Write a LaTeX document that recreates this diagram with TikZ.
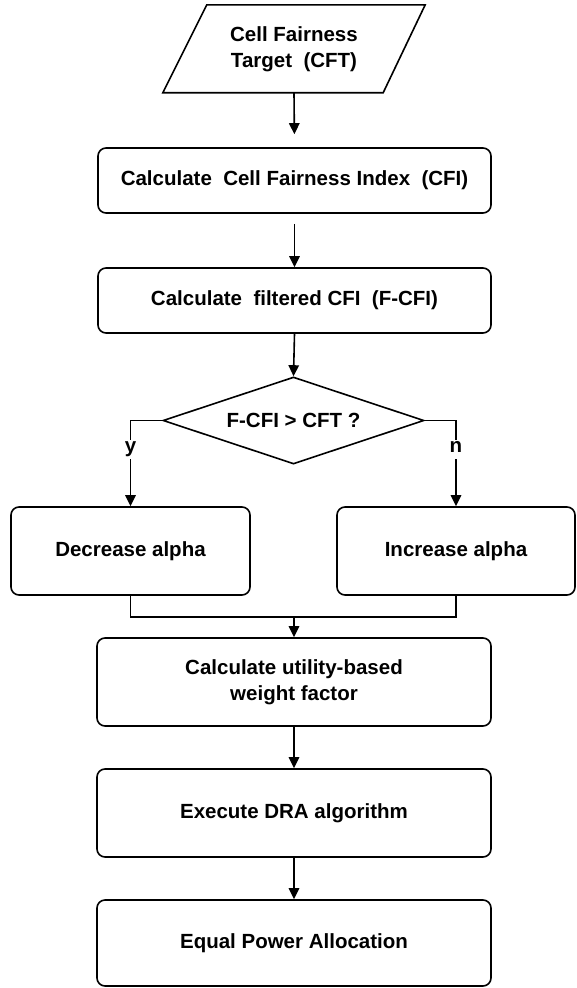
\documentclass[tikz,border=0pt]{standalone}
\usepackage{fontspec}
\setmainfont{Liberation Sans}
\usetikzlibrary{shapes.geometric,arrows.meta,calc}
\begin{document}
\begin{tikzpicture}[x=1pt,y=-1pt,
  every node/.style={font=\fontsize{20.5}{26}\selectfont\bfseries, align=center},
  flowline/.style={line width=1.6pt},
  arrowline/.style={flowline, -{Triangle[length=11pt,width=10.5pt]}},
  procbox/.style={draw, line width=1.6pt, rectangle, rounded corners=8pt, inner sep=0pt},
  decision/.style={draw, line width=1.6pt, diamond, aspect=3, inner sep=0pt,
                   minimum width=261pt, minimum height=87pt},
  branchlabel/.style={fill=white, inner sep=1.5pt, text height=11pt, text depth=4.5pt}]
  \useasboundingbox (0,0) rectangle (576,988);

  % input: target value (parallelogram)
  \node (cft) [minimum width=262pt, minimum height=87.5pt, inner sep=0pt] at (294,48.75)
        {Cell Fairness\\Target\ \ (CFT)};
  \draw[flowline, line join=miter] (cft.south west) -- ($(cft.south east)+(-42,0)$)
        -- (cft.north east) -- ($(cft.north west)+(44,0)$) -- cycle;

  % processing steps
  \node (cfi)  [procbox, minimum width=393pt, minimum height=65pt] at (294.5,180.5)
        {Calculate\ \ Cell Fairness\ Index\ \ (CFI)};
  \node (fcfi) [procbox, minimum width=393pt, minimum height=65pt] at (294.5,300.5)
        {Calculate\ \ filtered CFI\ \ (F-CFI)};
  \node (dec)  [decision] at (293.5,420.5) {F-CFI > CFT ?};
  \node (decr) [procbox, minimum width=239pt, minimum height=88pt] at (130.5,551)
        {Decrease alpha};
  \node (incr) [procbox, minimum width=238pt, minimum height=88pt] at (456,551)
        {Increase alpha};
  \node (wf)   [procbox, minimum width=394pt, minimum height=88pt] at (294,682)
        {Calculate utility-based\\weight factor};
  \node (dra)  [procbox, minimum width=394pt, minimum height=88pt] at (294,813)
        {Execute DRA algorithm};
  \node (epa)  [procbox, minimum width=394pt, minimum height=86pt] at (294,943)
        {Equal Power Allocation};

  \coordinate (merge) at (294,617);

  % connectors
  \draw[arrowline, shorten >=13pt] (cft.south) -- (cfi.north);
  \draw[arrowline, shorten <=10pt] (cfi.south) -- (fcfi.north);
  \draw[arrowline] (fcfi.south) -- (dec.north);
  \draw[arrowline] (dec.west) -| node[pos=0.67, branchlabel] {y} (decr.north);
  \draw[arrowline] (dec.east) -| node[pos=0.67, branchlabel] {n} (incr.north);
  \draw[flowline] (decr.south) |- (merge);
  \draw[flowline] (incr.south) |- (merge);
  \draw[arrowline] (merge) -- (wf.north);
  \draw[arrowline] (wf.south) -- (dra.north);
  \draw[arrowline] (dra.south) -- (epa.north);
\end{tikzpicture}
\end{document}
